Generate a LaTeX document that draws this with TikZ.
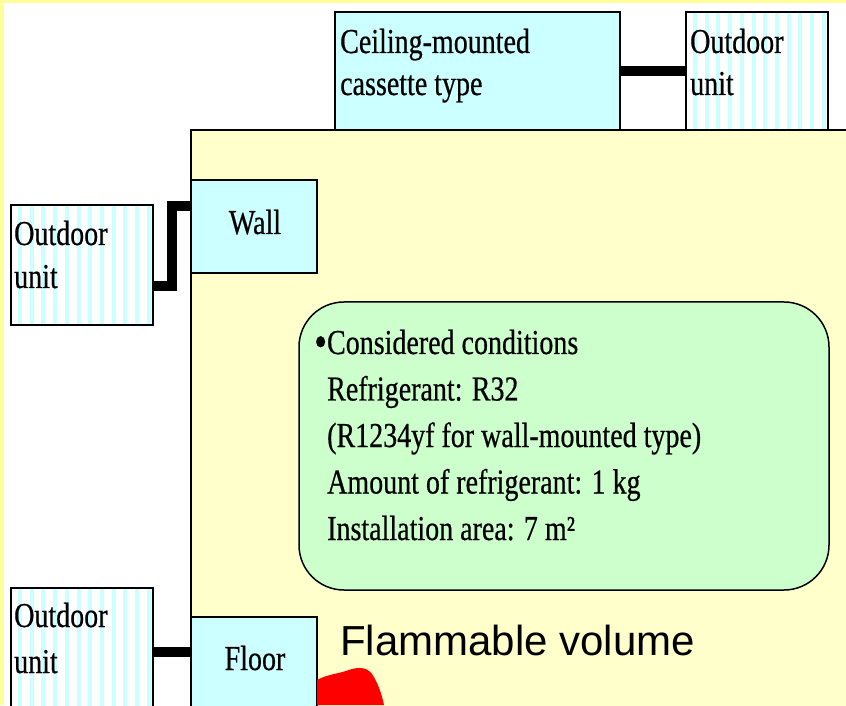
\documentclass[tikz,border=0pt]{standalone}
\usepackage{fontspec}
\setmainfont{Liberation Serif}[FakeStretch=0.8,FakeBold=0.5]
\newfontfamily\flamfont{Liberation Sans}
\usetikzlibrary{positioning}
\definecolor{roomyellow}{HTML}{FFFFCC}
\definecolor{frameyellow}{HTML}{FFFF99}
\definecolor{boxcyan}{HTML}{CCFFFF}
\definecolor{condgreen}{HTML}{CCFFCC}
\tikzset{
  unitbox/.style={draw, line width=1.5pt, fill=boxcyan, inner sep=0pt},
  outdoor/.style={draw, line width=1.5pt, fill=white, inner sep=0pt, minimum width=142pt,
    path picture={\foreach \k in {0,...,11}
      \fill[boxcyan] ([xshift=7pt+\k*11.7pt]path picture bounding box.south west) rectangle ++(4pt,140pt);}},
  pipe/.style={line width=10pt, line join=miter},
  txt/.style={anchor=base west, inner sep=0pt, font=\fontsize{35}{42}\selectfont},
}
\begin{document}
\begin{tikzpicture}[x=1pt,y=1pt]
		\useasboundingbox (0,0) rectangle (846,705);
		\clip (0,0) rectangle (846,705);
		\fill[white] (0,0) rectangle (846,705);
		\draw[frameyellow, line width=7pt] (0,0) -- (0,705) -- (846,705);
		% room
		\draw[line width=1.5pt, fill=roomyellow] (191,-5) -- (191,575) -- (851,575) -- (851,-5) -- cycle;
		% indoor and outdoor units
		\node[unitbox, minimum width=285pt, minimum height=118pt] (ceil) at (477.5,634) {};
		\node[outdoor, minimum height=118pt] (outR) at (757,634) {};
		\node[unitbox, minimum width=126pt, minimum height=93pt] (wall) at (254,478.5) {};
		\node[outdoor, minimum height=120pt] (outW) at (82,440) {};
		\node[unitbox, minimum width=126pt, minimum height=98pt] (floor) at (254,39) {};
		\node[outdoor, minimum height=127pt] (outF) at (82,53.5) {};
		% pipes
		\draw[pipe] (ceil.east) -- (outR.west);
		\draw[pipe] ([yshift=-21pt]outW.east) -| ([xshift=-18pt,yshift=20pt]wall.west) -- ([yshift=20pt]wall.west);
		\draw[pipe] (outF.east) -- (outF.east -| floor.west);
		% conditions
		\node[draw, line width=1.5pt, fill=condgreen, rounded corners=45pt,
			minimum width=530pt, minimum height=288pt] (cond) at (564,259) {};
		% labels
		\node[txt] (ceilA) at (340,652) {Ceiling-mounted};
		\node[txt] (ceilB) at (340,610) {cassette type};
		\node[txt] (outRA) at (690,652) {Outdoor};
		\node[txt] (outRB) at (690,610) {unit};
		\node[txt] (outWA) at (14,460) {Outdoor};
		\node[txt] (outWB) at (14,417) {unit};
		\node[txt, anchor=base] (wallT) at (255,471) {Wall};
		\node[txt] (outFA) at (14,78) {Outdoor};
		\node[txt] (outFB) at (14,32) {unit};
		\node[txt, anchor=base] (floorT) at (255,35) {Floor};
		\node[txt] (condA) at (314,351) {\raisebox{-3pt}{\fontsize{46}{46}\selectfont•}Considered conditions};
		\foreach \t [count=\k] in {{Refrigerant: R32},{(R1234yf for wall-mounted type)},
			{Amount of refrigerant: 1 kg},{Installation area: 7 m²}}
			\node[txt] (cond\k) at (327,351-46.5*\k) {\t};
		\node[anchor=base west, inner sep=0pt, font=\flamfont\fontsize{42}{48}\selectfont] (flam) at (340,50) {Flammable volume};
		% flammable region
		\fill[red] (317,25) .. controls (326,30) and (336,31) .. (346,34) .. controls (356,38) and (366,39) .. (372,31)
			.. controls (378,22) and (382,10) .. (384,0) -- (317,0) -- cycle;
		\end{tikzpicture}
\end{document}
